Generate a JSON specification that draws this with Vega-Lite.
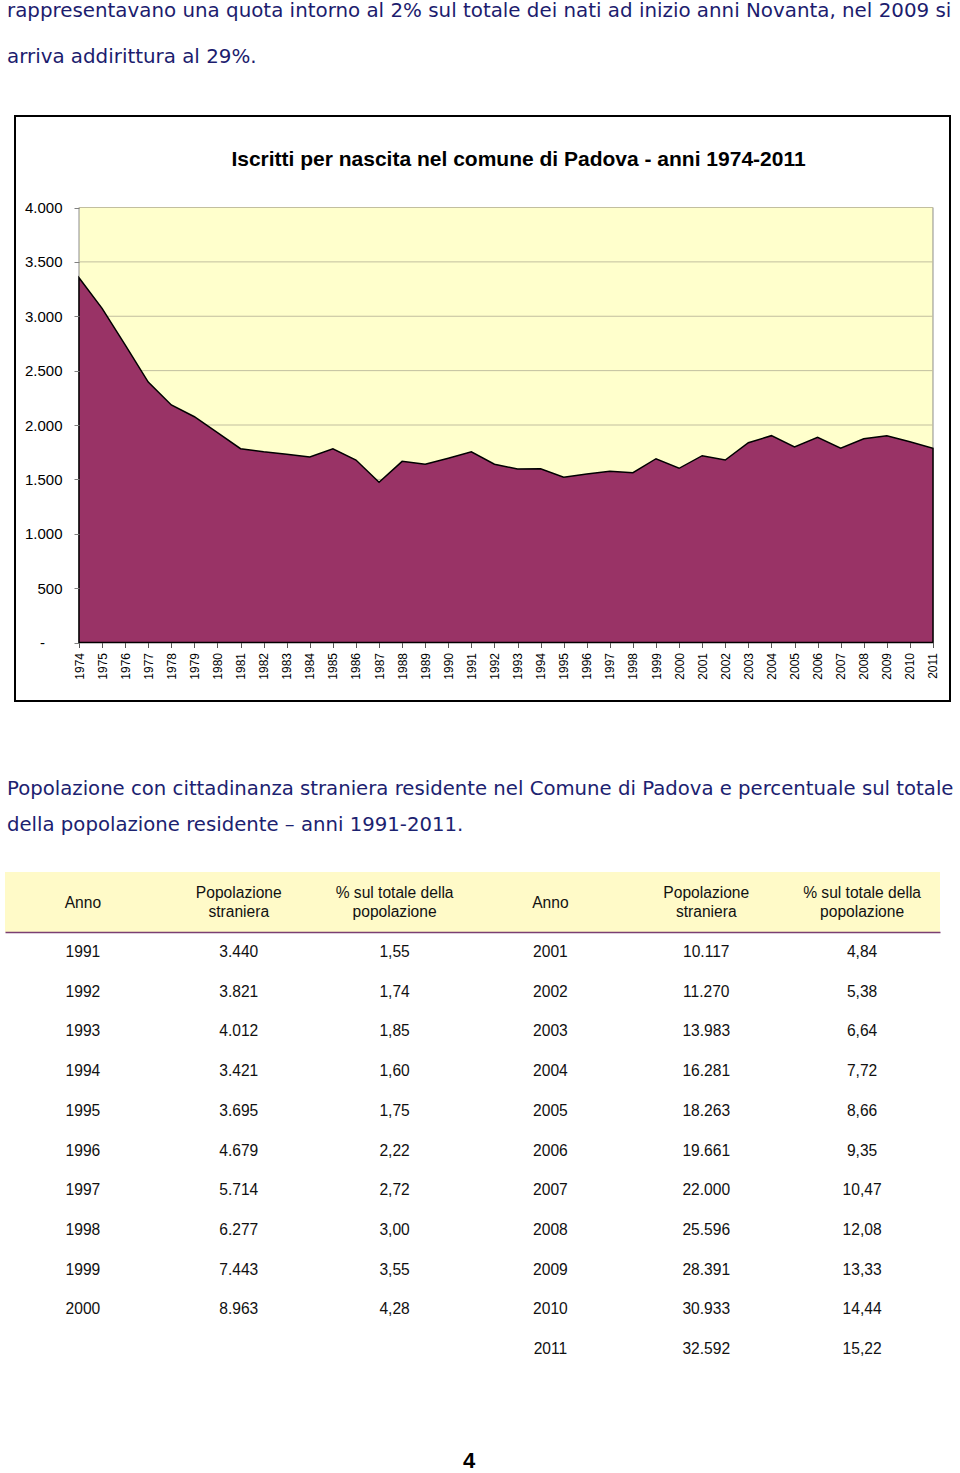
{
  "$schema": "https://vega.github.io/schema/vega-lite/v6.json",
  "padding": {"left": 5, "top": 0, "right": 0, "bottom": 0},
  "autosize": {"type": "pad"},
  "spacing": 0,
  "background": "white",
  "config": {
    "view": {"stroke": null},
    "locale": {"number": {"decimal": ",", "thousands": ".", "grouping": [3], "currency": ["", " €"]}},
    "font": "Liberation Sans"
  },
  "vconcat": [
    {
      "width": 955,
      "height": 115,
      "data": {"values": [
        {"riga": 1, "testo": "rappresentavano una quota intorno al 2% sul totale dei nati ad inizio anni Novanta, nel 2009 si"},
        {"riga": 2, "testo": "arriva addirittura al 29%."}
      ]},
      "mark": {"type": "text", "align": "left", "baseline": "middle", "font": "DejaVu Sans", "fontSize": 19.85, "color": "#1c1c6e"},
      "encoding": {
        "x": {"value": 2},
        "y": {"field": "riga", "type": "ordinal", "axis": null, "scale": {"type": "point", "range": [11, 57], "padding": 0}},
        "text": {"field": "testo"}
      }
    },
    {
      "spacing": 0,
      "hconcat": [
        {
          "width": 9,
          "height": 585,
          "data": {"values": [{"v": ""}]},
          "mark": "text",
          "encoding": {"text": {"field": "v"}}
        },
        {
          "width": 935,
          "height": 585,
          "view": {"stroke": "#000000", "strokeWidth": 2, "fill": "#ffffff"},
          "title": {
            "text": "Iscritti per nascita nel comune di Padova - anni 1974-2011",
            "orient": "top", "anchor": "middle", "frame": "group",
            "offset": -71, "dx": 36, "baseline": "alphabetic",
            "font": "Liberation Sans", "fontSize": 21, "fontWeight": "bold", "color": "#000000"
          },
          "layer": [
            {
              "data": {"values": [{}]},
              "mark": {"type": "rect", "fill": "#FFFFCC", "stroke": "#8c8c8c", "strokeWidth": 1},
              "encoding": {
                "x": {
                  "datum": 1974, "type": "quantitative",
                  "scale": {"domain": [1971.227, 2011.737], "nice": false, "zero": false},
                  "axis": {
                    "orient": "bottom", "offset": -58.5,
                    "values": [1974, 1975, 1976, 1977, 1978, 1979, 1980, 1981, 1982, 1983, 1984, 1985, 1986, 1987, 1988, 1989, 1990, 1991, 1992, 1993, 1994, 1995, 1996, 1997, 1998, 1999, 2000, 2001, 2002, 2003, 2004, 2005, 2006, 2007, 2008, 2009, 2010, 2011],
                    "format": "d", "labelAngle": 270, "labelAlign": "right", "labelBaseline": "middle",
                    "labelFont": "Liberation Sans", "labelFontSize": 12, "labelColor": "#000000",
                    "labelPadding": 5, "tickSize": 5, "tickColor": "#555555",
                    "domain": false, "grid": false, "title": null, "zindex": 1,
                    "labelOverlap": false, "labelFlush": false, "labelBound": false
                  }
                },
                "x2": {"datum": 2011},
                "y": {
                  "datum": 0, "type": "quantitative",
                  "scale": {"domain": [-537.9, 4841.4], "nice": false, "zero": false},
                  "axis": {
                    "orient": "left", "offset": -64,
                    "values": [0, 500, 1000, 1500, 2000, 2500, 3000, 3500, 4000],
                    "format": ",d",
                    "labelExpr": "datum.value == 0 ? '-' : datum.label",
                    "labelAlign": {"condition": {"test": "datum.value == 0", "value": "center"}, "value": "right"},
                    "labelPadding": {"condition": {"test": "datum.value == 0", "value": 32}, "value": 12},
                    "labelFont": "Liberation Sans", "labelFontSize": 15, "labelColor": "#000000",
                    "tickSize": 5, "tickColor": "#808080",
                    "domain": false, "grid": false, "title": null, "zindex": 1,
                    "labelOverlap": false, "labelFlush": false, "labelBound": false
                  }
                },
                "y2": {"datum": 4000}
              }
            },
            {
              "data": {"values": [{"g": 500}, {"g": 1000}, {"g": 1500}, {"g": 2000}, {"g": 2500}, {"g": 3000}, {"g": 3500}, {"g": 4000}]},
              "mark": {"type": "rule", "color": "#c2bf9f", "strokeWidth": 1},
              "encoding": {
                "x": {
                  "datum": 1974, "type": "quantitative",
                  "axis": {
                    "orient": "bottom", "offset": -58.5,
                    "values": [1974, 1975, 1976, 1977, 1978, 1979, 1980, 1981, 1982, 1983, 1984, 1985, 1986, 1987, 1988, 1989, 1990, 1991, 1992, 1993, 1994, 1995, 1996, 1997, 1998, 1999, 2000, 2001, 2002, 2003, 2004, 2005, 2006, 2007, 2008, 2009, 2010, 2011],
                    "format": "d", "labelAngle": 270, "labelAlign": "right", "labelBaseline": "middle",
                    "labelFont": "Liberation Sans", "labelFontSize": 12, "labelColor": "#000000",
                    "labelPadding": 5, "tickSize": 5, "tickColor": "#555555",
                    "domain": false, "grid": false, "title": null, "zindex": 1,
                    "labelOverlap": false, "labelFlush": false, "labelBound": false
                  }
                },
                "x2": {"datum": 2011},
                "y": {
                  "field": "g", "type": "quantitative",
                  "axis": {
                    "orient": "left", "offset": -64,
                    "values": [0, 500, 1000, 1500, 2000, 2500, 3000, 3500, 4000],
                    "format": ",d",
                    "labelExpr": "datum.value == 0 ? '-' : datum.label",
                    "labelAlign": {"condition": {"test": "datum.value == 0", "value": "center"}, "value": "right"},
                    "labelPadding": {"condition": {"test": "datum.value == 0", "value": 32}, "value": 12},
                    "labelFont": "Liberation Sans", "labelFontSize": 15, "labelColor": "#000000",
                    "tickSize": 5, "tickColor": "#808080",
                    "domain": false, "grid": false, "title": null, "zindex": 1,
                    "labelOverlap": false, "labelFlush": false, "labelBound": false
                  }
                }
              }
            },
            {
              "data": {"values": [
                {"anno": 1974, "nati": 3354}, {"anno": 1975, "nati": 3073}, {"anno": 1976, "nati": 2736},
                {"anno": 1977, "nati": 2395}, {"anno": 1978, "nati": 2184}, {"anno": 1979, "nati": 2076},
                {"anno": 1980, "nati": 1929}, {"anno": 1981, "nati": 1782}, {"anno": 1982, "nati": 1754},
                {"anno": 1983, "nati": 1731}, {"anno": 1984, "nati": 1706}, {"anno": 1985, "nati": 1782},
                {"anno": 1986, "nati": 1678}, {"anno": 1987, "nati": 1473}, {"anno": 1988, "nati": 1666},
                {"anno": 1989, "nati": 1639}, {"anno": 1990, "nati": 1694}, {"anno": 1991, "nati": 1754},
                {"anno": 1992, "nati": 1639}, {"anno": 1993, "nati": 1595}, {"anno": 1994, "nati": 1598},
                {"anno": 1995, "nati": 1519}, {"anno": 1996, "nati": 1549}, {"anno": 1997, "nati": 1574},
                {"anno": 1998, "nati": 1561}, {"anno": 1999, "nati": 1690}, {"anno": 2000, "nati": 1602},
                {"anno": 2001, "nati": 1718}, {"anno": 2002, "nati": 1678}, {"anno": 2003, "nati": 1837},
                {"anno": 2004, "nati": 1902}, {"anno": 2005, "nati": 1798}, {"anno": 2006, "nati": 1887},
                {"anno": 2007, "nati": 1786}, {"anno": 2008, "nati": 1874}, {"anno": 2009, "nati": 1902},
                {"anno": 2010, "nati": 1846}, {"anno": 2011, "nati": 1786}
              ]},
              "mark": {"type": "area", "fill": "#993366", "stroke": "#000000", "strokeWidth": 1.5, "strokeJoin": "miter"},
              "encoding": {
                "x": {
                  "field": "anno", "type": "quantitative",
                  "axis": {
                    "orient": "bottom", "offset": -58.5,
                    "values": [1974, 1975, 1976, 1977, 1978, 1979, 1980, 1981, 1982, 1983, 1984, 1985, 1986, 1987, 1988, 1989, 1990, 1991, 1992, 1993, 1994, 1995, 1996, 1997, 1998, 1999, 2000, 2001, 2002, 2003, 2004, 2005, 2006, 2007, 2008, 2009, 2010, 2011],
                    "format": "d", "labelAngle": 270, "labelAlign": "right", "labelBaseline": "middle",
                    "labelFont": "Liberation Sans", "labelFontSize": 12, "labelColor": "#000000",
                    "labelPadding": 5, "tickSize": 5, "tickColor": "#555555",
                    "domain": false, "grid": false, "title": null, "zindex": 1,
                    "labelOverlap": false, "labelFlush": false, "labelBound": false
                  }
                },
                "y": {
                  "field": "nati", "type": "quantitative",
                  "axis": {
                    "orient": "left", "offset": -64,
                    "values": [0, 500, 1000, 1500, 2000, 2500, 3000, 3500, 4000],
                    "format": ",d",
                    "labelExpr": "datum.value == 0 ? '-' : datum.label",
                    "labelAlign": {"condition": {"test": "datum.value == 0", "value": "center"}, "value": "right"},
                    "labelPadding": {"condition": {"test": "datum.value == 0", "value": 32}, "value": 12},
                    "labelFont": "Liberation Sans", "labelFontSize": 15, "labelColor": "#000000",
                    "tickSize": 5, "tickColor": "#808080",
                    "domain": false, "grid": false, "title": null, "zindex": 1,
                    "labelOverlap": false, "labelFlush": false, "labelBound": false
                  }
                },
                "y2": {"datum": 0}
              }
            }
          ]
        }
      ]
    },
    {
      "width": 955,
      "height": 170,
      "data": {"values": [
        {"riga": 1, "testo": "Popolazione con cittadinanza straniera residente nel Comune di Padova e percentuale sul totale"},
        {"riga": 2, "testo": "della popolazione residente – anni 1991-2011."}
      ]},
      "mark": {"type": "text", "align": "left", "baseline": "middle", "font": "DejaVu Sans", "fontSize": 19.7, "color": "#1c2270"},
      "encoding": {
        "x": {"value": 2},
        "y": {"field": "riga", "type": "ordinal", "axis": null, "scale": {"type": "point", "range": [87, 123], "padding": 0}},
        "text": {"field": "testo"}
      }
    },
    {
      "width": 935,
      "height": 60,
      "view": {"fill": "#FFFAC8", "stroke": null},
      "data": {"values": [
        {"a1": "Anno", "p1": "Popolazione\nstraniera", "q1": "% sul totale della\npopolazione", "a2": "Anno", "p2": "Popolazione\nstraniera", "q2": "% sul totale della\npopolazione"}
      ]},
      "transform": [{"fold": ["a1", "p1", "q1", "a2", "p2", "q2"], "as": ["col", "testo"]}],
      "encoding": {
        "x": {
          "field": "col", "type": "nominal",
          "scale": {"domain": ["a1", "p1", "q1", "a2", "p2", "q2"]},
          "axis": {"orient": "bottom", "labels": false, "ticks": false, "title": null, "grid": false, "domain": true, "domainColor": "#7a3f72", "domainWidth": 1.5}
        },
        "text": {"field": "testo"}
      },
      "layer": [
        {
          "transform": [{"filter": "datum.testo == 'Anno'"}],
          "mark": {"type": "text", "align": "center", "baseline": "middle", "font": "Liberation Sans", "fontSize": 15.6, "color": "#111111", "dy": 1}
        },
        {
          "transform": [{"filter": "datum.testo != 'Anno'"}],
          "mark": {"type": "text", "align": "center", "baseline": "middle", "lineBreak": "\n", "lineHeight": 18.5, "font": "Liberation Sans", "fontSize": 15.6, "color": "#111111", "dy": -9}
        }
      ]
    },
    {
      "width": 935,
      "height": 437,
      "data": {"values": [
        {"r": 1, "a1": "1991", "p1": "3.440", "q1": "1,55", "a2": "2001", "p2": "10.117", "q2": "4,84"},
        {"r": 2, "a1": "1992", "p1": "3.821", "q1": "1,74", "a2": "2002", "p2": "11.270", "q2": "5,38"},
        {"r": 3, "a1": "1993", "p1": "4.012", "q1": "1,85", "a2": "2003", "p2": "13.983", "q2": "6,64"},
        {"r": 4, "a1": "1994", "p1": "3.421", "q1": "1,60", "a2": "2004", "p2": "16.281", "q2": "7,72"},
        {"r": 5, "a1": "1995", "p1": "3.695", "q1": "1,75", "a2": "2005", "p2": "18.263", "q2": "8,66"},
        {"r": 6, "a1": "1996", "p1": "4.679", "q1": "2,22", "a2": "2006", "p2": "19.661", "q2": "9,35"},
        {"r": 7, "a1": "1997", "p1": "5.714", "q1": "2,72", "a2": "2007", "p2": "22.000", "q2": "10,47"},
        {"r": 8, "a1": "1998", "p1": "6.277", "q1": "3,00", "a2": "2008", "p2": "25.596", "q2": "12,08"},
        {"r": 9, "a1": "1999", "p1": "7.443", "q1": "3,55", "a2": "2009", "p2": "28.391", "q2": "13,33"},
        {"r": 10, "a1": "2000", "p1": "8.963", "q1": "4,28", "a2": "2010", "p2": "30.933", "q2": "14,44"},
        {"r": 11, "a1": "", "p1": "", "q1": "", "a2": "2011", "p2": "32.592", "q2": "15,22"}
      ]},
      "transform": [{"fold": ["a1", "p1", "q1", "a2", "p2", "q2"], "as": ["col", "testo"]}],
      "mark": {"type": "text", "align": "center", "baseline": "middle", "font": "Liberation Sans", "fontSize": 15.6, "color": "#111111"},
      "encoding": {
        "x": {"field": "col", "type": "nominal", "scale": {"domain": ["a1", "p1", "q1", "a2", "p2", "q2"]}, "axis": null},
        "y": {"field": "r", "type": "ordinal", "scale": {"domain": [1, 2, 3, 4, 5, 6, 7, 8, 9, 10, 11]}, "axis": null},
        "text": {"field": "testo"}
      }
    },
    {
      "width": 935,
      "height": 104,
      "data": {"values": [{"t": "4"}]},
      "mark": {"type": "text", "align": "center", "baseline": "middle", "font": "Liberation Sans", "fontSize": 22, "fontWeight": "bold", "color": "#000000", "dx": -3.5, "dy": 40},
      "encoding": {"text": {"field": "t"}}
    }
  ]
}
